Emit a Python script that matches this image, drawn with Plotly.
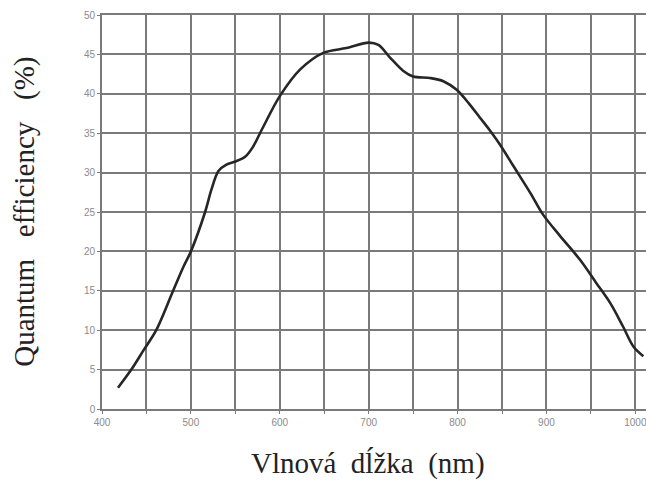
import plotly.graph_objects as go

# Data
wavelength_nm = [418, 433, 447, 461, 480, 491, 500, 516, 523, 531, 540, 550, 561, 570, 580,
                 600, 623, 649, 675, 700, 711, 724, 739, 750, 769, 784, 799, 814, 825, 836,
                 848, 863, 882, 896, 915, 938, 956, 972, 986, 998, 1009]
quantum_eff = [2.7, 5.0, 7.5, 10.0, 15.0, 17.9, 20.0, 25.0, 27.8, 30.2, 31.0, 31.4, 32.0, 33.3, 35.5,
               39.7, 43.1, 45.2, 45.8, 46.5, 46.2, 44.6, 42.9, 42.2, 42.0, 41.6, 40.5, 38.6, 37.0, 35.4,
               33.5, 30.8, 27.4, 24.7, 22.0, 18.9, 16.0, 13.4, 10.5, 7.9, 6.7]

x_tick_vals = [400, 450, 500, 550, 600, 650, 700, 750, 800, 850, 900, 950, 1000]
x_tick_text = ["400", "", "500", "", "600", "", "700", "", "800", "", "900", "", "1000"]
y_tick_vals = [0, 5, 10, 15, 20, 25, 30, 35, 40, 45, 50]
y_tick_text = ["0", "5", "10", "15", "20", "25", "30", "35", "40", "45", "50"]

x_title = "Vlnová\u00a0\u00a0dĺžka\u00a0\u00a0(nm)"
y_title = "Quantum\u00a0\u00a0\u00a0efficiency\u00a0\u00a0\u00a0(%)"

grid_col = "#7a7a7a"

fig = go.Figure()
fig.add_trace(go.Scatter(
    x=wavelength_nm, y=quantum_eff, mode="lines",
    line=dict(color="#262626", width=2.6, shape="spline", smoothing=0.9),
    hoverinfo="skip", showlegend=False,
))

fig.update_layout(
    width=646, height=484,
    margin=dict(l=102, r=0, t=15, b=75, autoexpand=False),
    paper_bgcolor="white", plot_bgcolor="white",
    xaxis=dict(
        range=[400, 1012], tickmode="array", tickvals=x_tick_vals, ticktext=x_tick_text,
        showgrid=True, gridcolor=grid_col, gridwidth=1.6,
        showline=True, linecolor=grid_col, linewidth=1.6, mirror=True,
        ticks="outside", ticklen=3, tickcolor=grid_col, automargin=False,
        ticklabeloverflow="allow",
        tickfont=dict(family="Liberation Sans, Arial, sans-serif", size=10, color="#8a8a8a"),
        zeroline=False,
    ),
    yaxis=dict(
        range=[0, 50], tickmode="array", tickvals=y_tick_vals, ticktext=y_tick_text,
        showgrid=True, gridcolor=grid_col, gridwidth=1.6,
        showline=True, linecolor=grid_col, linewidth=1.6,
        ticks="outside", ticklen=3, tickcolor=grid_col, automargin=False,
        tickfont=dict(family="Liberation Sans, Arial, sans-serif", size=10, color="#8a8a8a"),
        zeroline=False,
    ),
    annotations=[
        dict(text=x_title, xref="paper", yref="paper", x=0.489, y=-0.138,
             xanchor="center", yanchor="middle", showarrow=False,
             font=dict(family="Liberation Serif, Times New Roman, serif", size=29, color="#222222")),
        dict(text=y_title, xref="paper", yref="paper", x=-0.143, y=0.501,
             xanchor="center", yanchor="middle", textangle=-90, showarrow=False,
             font=dict(family="Liberation Serif, Times New Roman, serif", size=29, color="#222222")),
    ],
)

fig.write_html("out.html", config={"displayModeBar": False},
               post_script="document.body.style.margin='0';document.body.style.padding='0';")
